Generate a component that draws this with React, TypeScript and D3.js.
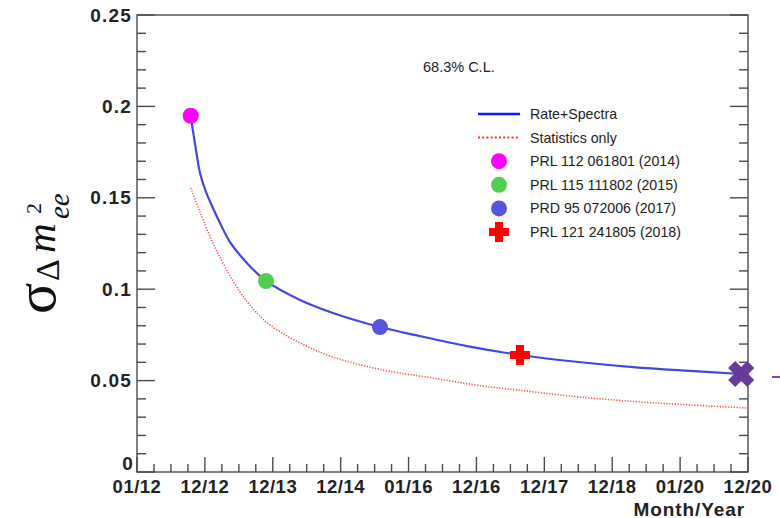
import React from "react";
import * as d3 from "d3";

// Time axis: equal divisions, labelled month/year
const xTickLabels = ["01/12", "12/12", "12/13", "12/14", "01/16", "12/16", "12/17", "12/18", "01/20", "12/20"];
const yTickValues = [0, 0.05, 0.1, 0.15, 0.2, 0.25];

// Projected sensitivity, rate + spectral analysis
const rateSpectraT = [0.791, 0.825, 0.876, 0.928, 1.016, 1.105, 1.237, 1.37, 1.62, 1.9, 2.401, 2.887, 3.579, 4.124, 4.861, 5.642, 6.466, 7.306, 8.146, 8.9];
const rateSpectraSigma = [0.1949, 0.1865, 0.1745, 0.1636, 0.1532, 0.1455, 0.1351, 0.1258, 0.1143, 0.1045, 0.0941, 0.087, 0.0793, 0.0747, 0.0689, 0.064, 0.0603, 0.0574, 0.0553, 0.0536];

// Projected sensitivity, statistical uncertainty only
const statOnlyT = [0.791, 0.928, 1.174, 1.517, 1.738, 1.959, 2.401, 2.887, 3.624, 4.36, 5.097, 5.597, 6.319, 7.306, 8.146, 8.985];
const statOnlySigma = [0.1554, 0.1422, 0.1209, 0.0985, 0.0881, 0.0804, 0.0706, 0.0629, 0.0558, 0.0514, 0.047, 0.0449, 0.0418, 0.0386, 0.0367, 0.035];

// Published results
const resultLabels = ["PRL 112 061801 (2014)", "PRL 115 111802 (2015)", "PRD 95 072006 (2017)", "PRL 121 241805 (2018)"];
const resultT = [0.791, 1.9, 3.579, 5.642];
const resultSigma = [0.1949, 0.1045, 0.0793, 0.064];
const resultColors = ["#ff00ff", "#4fcf4f", "#5555dd", "#ff0000"];

// Final projected point
const finalT = 8.9;
const finalSigma = 0.0536;

const W = 780;
const H = 518;
const left = 137;
const right = 748;
const top = 15;
const bottom = 472;

const FONT = "'Liberation Sans', Arial, Helvetica, sans-serif";
const SERIF = "'Liberation Serif', 'DejaVu Serif', 'Times New Roman', serif";

function crossPath(cx: number, cy: number, half: number, thick: number, angle: number) {
  const pts: [number, number][] = [
    [-thick, -half], [thick, -half], [thick, -thick], [half, -thick], [half, thick], [thick, thick],
    [thick, half], [-thick, half], [-thick, thick], [-half, thick], [-half, -thick], [-thick, -thick],
  ];
  const c = Math.cos(angle), s = Math.sin(angle);
  return (
    "M" +
    pts.map(([x, y]) => `${(cx + x * c - y * s).toFixed(2)},${(cy + x * s + y * c).toFixed(2)}`).join("L") +
    "Z"
  );
}

export default function App() {
  const x = d3.scaleLinear().domain([0, xTickLabels.length - 1]).range([left, right]);
  const y = d3.scaleLinear().domain([0, 0.25]).range([bottom, top]);

  const line = d3
    .line<[number, number]>()
    .x((d) => x(d[0]))
    .y((d) => y(d[1]))
    .curve(d3.curveCatmullRom.alpha(0.5));

  const ratePath = line(rateSpectraT.map((t, i) => [t, rateSpectraSigma[i]] as [number, number])) || "";
  const statPath = line(statOnlyT.map((t, i) => [t, statOnlySigma[i]] as [number, number])) || "";

  const xMajor = d3.range(xTickLabels.length);
  const xMinor = d3.range(0, xTickLabels.length - 1, 0.25).filter((v) => Math.abs(v - Math.round(v)) > 1e-6);
  const yMinor = d3.range(0, 0.2501, 0.01).filter((v) => !yTickValues.some((m) => Math.abs(m - v) < 1e-6));

  const axisColor = "#4a4a4a";
  const fmt = (v: number) => (v === 0 ? "0" : d3.format("")(+v.toFixed(2)));

  // legend layout
  const legX = 478;
  const legText = 530;
  const legY0 = 114;
  const legStep = 23.6;
  const legFont = 14.2;

  return (
    <svg
      width={W}
      height={H}
      style={{ position: "absolute", left: 0, top: 0, background: "#fff" }}
      xmlns="http://www.w3.org/2000/svg"
    >
      <rect x={0} y={0} width={W} height={H} fill="#fff" />

      {/* frame */}
      <rect x={left} y={top} width={right - left} height={bottom - top} fill="none" stroke={axisColor} strokeWidth={1.4} />

      {/* y ticks, left and right */}
      {yTickValues.map((v) => (
        <g key={"ym" + v}>
          <line x1={left} x2={left + 18} y1={y(v)} y2={y(v)} stroke={axisColor} strokeWidth={1.4} />
          <line x1={right} x2={right - 18} y1={y(v)} y2={y(v)} stroke={axisColor} strokeWidth={1.4} />
        </g>
      ))}
      {yMinor.map((v) => (
        <g key={"yn" + v}>
          <line x1={left} x2={left + 9} y1={y(v)} y2={y(v)} stroke={axisColor} strokeWidth={1.4} />
          <line x1={right} x2={right - 9} y1={y(v)} y2={y(v)} stroke={axisColor} strokeWidth={1.4} />
        </g>
      ))}
      {yTickValues.map((v) => (
        <text
          key={"yl" + v}
          x={v === 0 ? 134 : 132}
          y={v === 0 ? y(v) - 9 : y(v)}
          textAnchor="end"
          dominantBaseline="central"
          fontFamily={FONT}
          fontSize={19}
          fontWeight="bold"
          letterSpacing={1.2}
          fill="#222"
        >
          {fmt(v)}
        </text>
      ))}

      {/* x ticks */}
      {xMajor.map((v) => (
        <line key={"xm" + v} x1={x(v)} x2={x(v)} y1={bottom} y2={bottom - 15} stroke={axisColor} strokeWidth={1.4} />
      ))}
      {xMinor.map((v) => (
        <line key={"xn" + v} x1={x(v)} x2={x(v)} y1={bottom} y2={bottom - 8} stroke={axisColor} strokeWidth={1.4} />
      ))}
      {xTickLabels.map((lab, i) => (
        <text
          key={"xl" + lab + i}
          x={x(i)}
          y={493}
          textAnchor="middle"
          fontFamily={FONT}
          fontSize={18.5}
          fontWeight="bold"
          letterSpacing={0.5}
          fill="#222"
        >
          {lab}
        </text>
      ))}
      <text x={745} y={515.5} textAnchor="end" fontFamily={FONT} fontSize={19} fontWeight="bold" letterSpacing={0.9} fill="#222">
        Month/Year
      </text>

      {/* y title: sigma_{Delta m^2_ee} */}
      <g transform="translate(55,314) rotate(-90)" fill="#111" fontFamily={SERIF}>
        <text x={0} y={0} fontSize={58}>σ</text>
        <text x={33} y={4} fontSize={34}>Δ</text>
        <text x={61} y={0} fontSize={41} fontStyle="italic">m</text>
        <text x={95} y={14} fontSize={29} fontStyle="italic">ee</text>
        <text x={100} y={-14} fontSize={22}>2</text>
      </g>

      {/* curves */}
      <path d={statPath} fill="none" stroke="#ff4a4a" strokeWidth={1.6} strokeDasharray="1.2,1.6" />
      <path d={ratePath} fill="none" stroke="#4545e0" strokeWidth={2.2} />

      {/* published results */}
      {resultT.slice(0, 3).map((t, i) => (
        <circle key={"pt" + i} cx={x(t)} cy={y(resultSigma[i])} r={8} fill={resultColors[i]} />
      ))}
      <path d={crossPath(x(resultT[3]), y(resultSigma[3]), 10, 4, 0)} fill={resultColors[3]} />
      <path d={crossPath(x(finalT), y(finalSigma), 13.5, 5, Math.PI / 4)} fill="#673a9c" />
      <line x1={772} x2={780} y1={377} y2={377} stroke="#8a3cc8" strokeWidth={2} />

      {/* annotation */}
      <text x={423} y={72} fontFamily={FONT} fontSize={14.5} fill="#222">68.3% C.L.</text>

      {/* legend */}
      <line x1={legX} x2={legX + 42} y1={legY0} y2={legY0} stroke="#1515ff" strokeWidth={2.6} />
      <text x={legText} y={legY0} dominantBaseline="central" fontFamily={FONT} fontSize={legFont} fill="#222">
        Rate+Spectra
      </text>
      <line
        x1={legX}
        x2={legX + 41}
        y1={legY0 + legStep}
        y2={legY0 + legStep}
        stroke="#ff3030"
        strokeWidth={2}
        strokeDasharray="2,2.2"
      />
      <text x={legText} y={legY0 + legStep} dominantBaseline="central" fontFamily={FONT} fontSize={legFont} fill="#222">
        Statistics only
      </text>
      {resultLabels.map((lab, i) => {
        const ly = legY0 + legStep * (i + 2);
        return (
          <g key={"leg" + i}>
            {i < 3 ? (
              <circle cx={499} cy={ly} r={8} fill={resultColors[i]} />
            ) : (
              <path d={crossPath(499, ly, 10, 4, 0)} fill={resultColors[i]} />
            )}
            <text x={legText} y={ly} dominantBaseline="central" fontFamily={FONT} fontSize={legFont} fill="#222">
              {lab}
            </text>
          </g>
        );
      })}
    </svg>
  );
}
